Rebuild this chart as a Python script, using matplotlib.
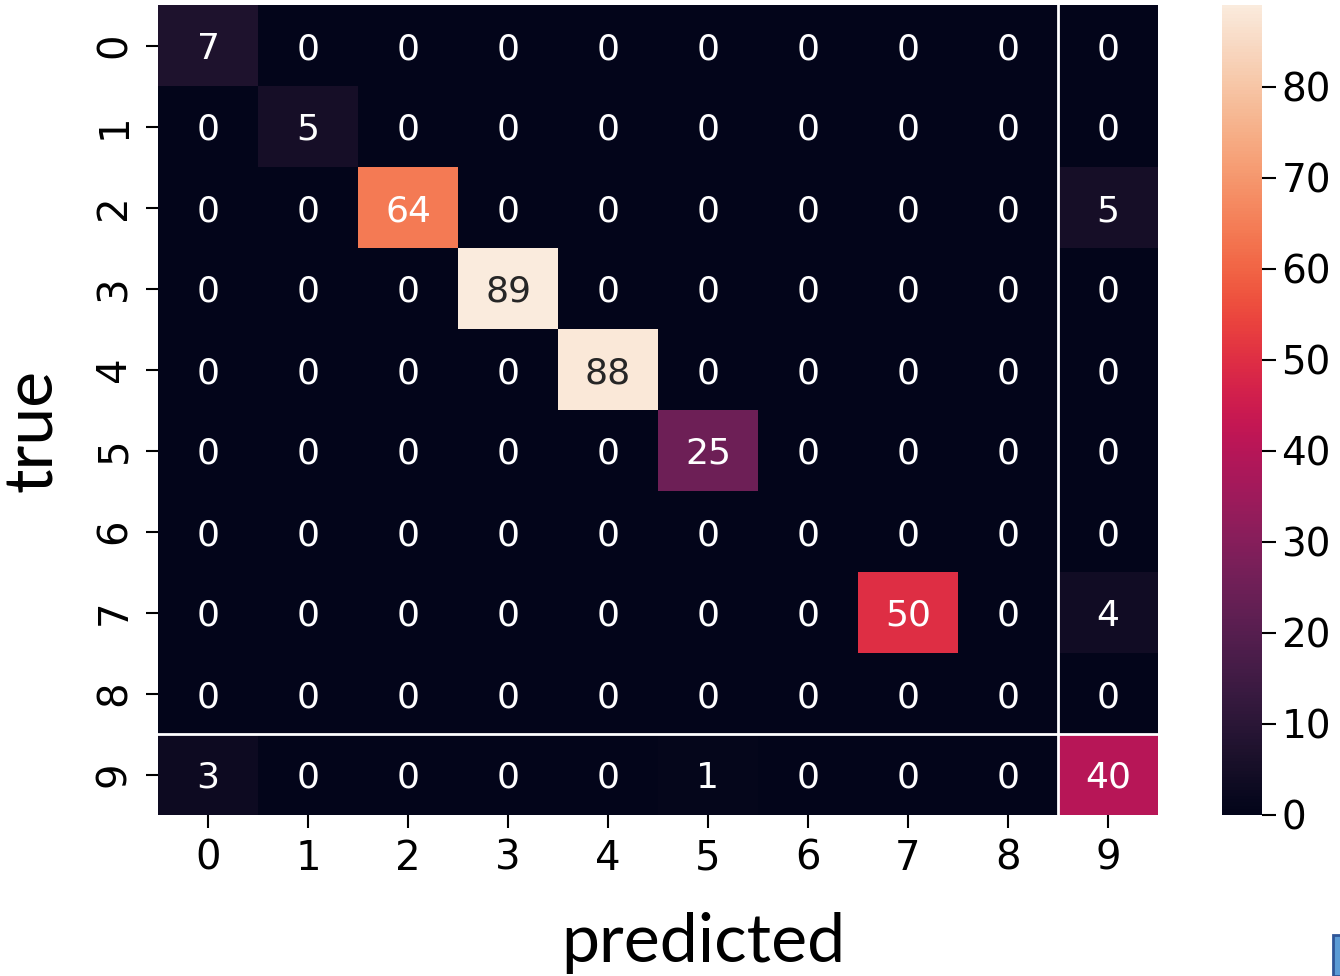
import numpy as np
import matplotlib
matplotlib.use('Agg')
import matplotlib.pyplot as plt
import seaborn as sns
from matplotlib.patches import Rectangle

labels = [str(i) for i in range(10)]

# rows: true class, columns: predicted class
counts = np.array([
    [7, 0, 0, 0, 0, 0, 0, 0, 0, 0],
    [0, 5, 0, 0, 0, 0, 0, 0, 0, 0],
    [0, 0, 64, 0, 0, 0, 0, 0, 0, 5],
    [0, 0, 0, 89, 0, 0, 0, 0, 0, 0],
    [0, 0, 0, 0, 88, 0, 0, 0, 0, 0],
    [0, 0, 0, 0, 0, 25, 0, 0, 0, 0],
    [0, 0, 0, 0, 0, 0, 0, 0, 0, 0],
    [0, 0, 0, 0, 0, 0, 0, 50, 0, 4],
    [0, 0, 0, 0, 0, 0, 0, 0, 0, 0],
    [3, 0, 0, 0, 0, 1, 0, 0, 0, 40],
])
cbar_ticks = list(range(0, 90, 10))

W, H = 1340, 976
fig = plt.figure(figsize=(W / 100, H / 100), dpi=100)
ax = fig.add_axes([158 / W, 1 - 815 / H, 1000 / W, 810 / H])
cax = fig.add_axes([1222 / W, 1 - 815 / H, 40 / W, 810 / H])

sns.heatmap(counts, annot=True, fmt='d', ax=ax, cbar_ax=cax,
            xticklabels=labels, yticklabels=labels,
            annot_kws={'fontsize': 26})
for t in ax.texts:
    t.set_va('center_baseline')

# separate the last class from the rest
ax.axhline(9, color='white', lw=2)
ax.axvline(9, color='white', lw=2)

ax.tick_params(axis='both', labelsize=29, length=9, width=1.5, pad=8)
ax.set_yticklabels(labels, rotation=90, va='center')
ax.set_xticklabels(labels, rotation=0)

cax.set_yticks(cbar_ticks)
cax.tick_params(labelsize=28, length=10, width=1.5, pad=4)

fig.text(33 / W, 1 - 430 / H, 'true', rotation=90, ha='center', va='center',
         fontsize=49, family='Lato')
fig.text(703 / W, 1 - 962 / H, 'predicted', ha='center', va='baseline',
         fontsize=49, family='Lato')

fig.patches.append(Rectangle((1333 / W, 0), 10 / W, 41 / H,
                             transform=fig.transFigure, facecolor='#5b9bd5',
                             edgecolor='#2f5597', lw=2))

fig.savefig('out.png', dpi=100)
